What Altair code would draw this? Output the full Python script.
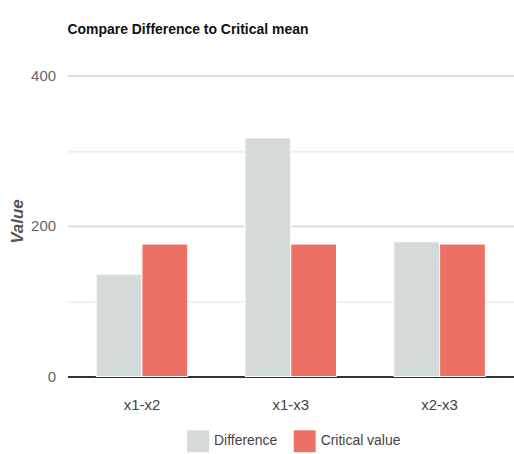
import altair as alt
import pandas as pd

categories = ["x1-x2", "x1-x3", "x2-x3"]
difference = [136, 317, 179]
critical = [176, 176, 176]
series_names = ["Difference", "Critical value"]
colors = ["#D5DBDB", "#EC7063"]

rows = []
for i, c in enumerate(categories):
    rows.append({"pair": c, "series": series_names[0], "value": difference[i]})
    rows.append({"pair": c, "series": series_names[1], "value": critical[i]})
df = pd.DataFrame(rows)

FONT = "Liberation Sans, Arial, sans-serif"

chart = alt.Chart(df).mark_bar(stroke="white", strokeWidth=1).encode(
    x=alt.X("pair:N", sort=categories,
            scale=alt.Scale(paddingInner=0.385, paddingOuter=0.1925),
            axis=alt.Axis(title=None, labelAngle=0, ticks=False, domain=True,
                          domainColor="#333333", domainWidth=2,
                          labelFont=FONT, labelFontSize=15, labelColor="#444444",
                          labelPadding=21)),
    xOffset=alt.XOffset("series:N", sort=series_names),
    y=alt.Y("value:Q", scale=alt.Scale(domain=[0, 400], nice=False),
            axis=alt.Axis(title="Value", values=[0, 100, 200, 300, 400],
                          labelExpr="datum.value % 200 == 0 ? datum.label : ''",
                          ticks=False, domain=False, grid=True,
                          gridColor={"condition": {"test": "datum.value % 200 == 0", "value": "#dddddd"}, "value": "#eeeeee"},
                          gridWidth=2,
                          labelFont=FONT, labelFontSize=15, labelColor="#666666",
                          labelPadding=12,
                          titleFont=FONT, titleFontSize=17, titleFontStyle="italic",
                          titleFontWeight="bold", titleColor="#555555",
                          titleX=-50, titleY=146, titleAngle=-90,
                          titleAlign="center", titleBaseline="middle")),
    color=alt.Color("series:N", sort=series_names,
                    scale=alt.Scale(domain=series_names, range=colors),
                    legend=alt.Legend(title=None, orient="none", direction="horizontal",
                                      legendX=120, legendY=356,
                                      symbolType="square", symbolSize=484,
                                      symbolStrokeWidth=0,
                                      labelFont=FONT, labelFontSize=14, labelColor="#444444",
                                      columnPadding=16, labelOffset=5)),
).properties(
    width=448, height=302,
    title=alt.TitleParams("Compare Difference to Critical mean", anchor="start",
                          frame="group",
                          font=FONT, fontSize=14, fontWeight="bold", color="#111111",
                          offset=32),
    padding={"left": 67.75, "top": 75, "right": 0, "bottom": 77},
    autosize="none",
).configure_view(stroke=None)

chart.save("out.html", embed_options={"renderer": "svg", "actions": False})
